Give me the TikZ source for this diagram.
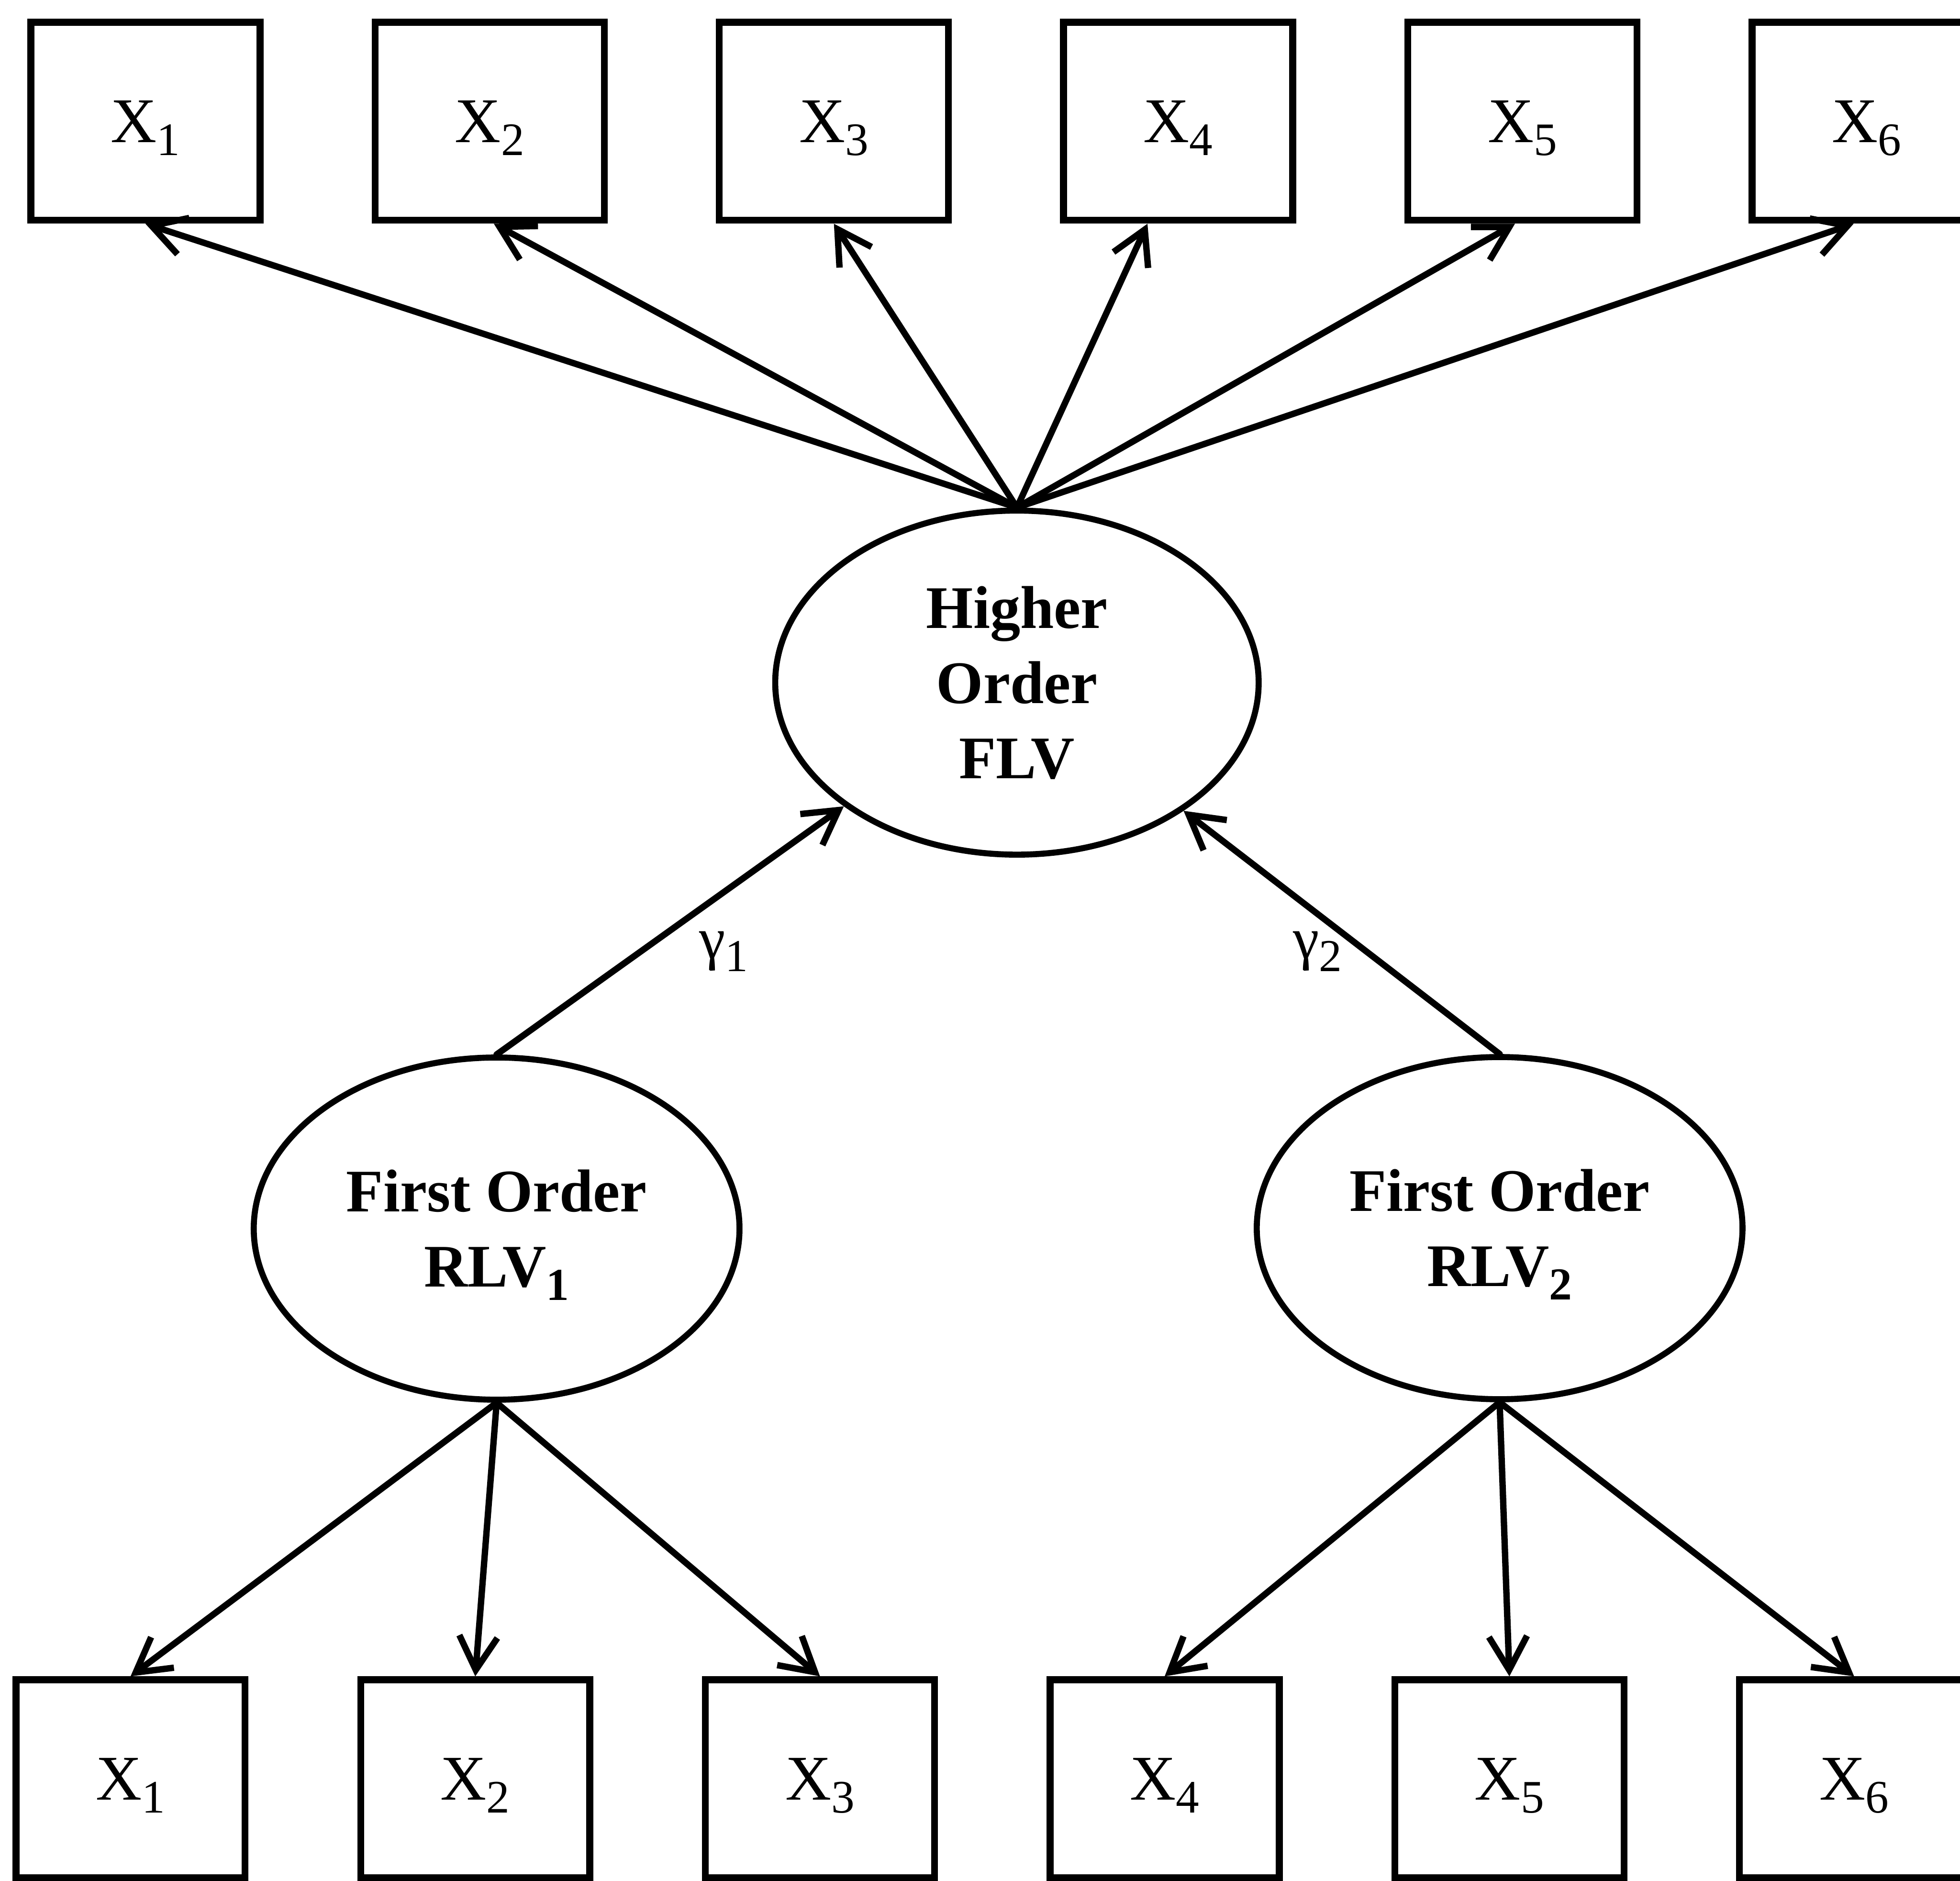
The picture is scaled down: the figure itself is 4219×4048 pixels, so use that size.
\documentclass[tikz,border=0pt]{standalone}
\usepackage{fontspec}
\setmainfont{Liberation Serif}
\usetikzlibrary{arrows.meta,shapes.geometric}

% lowered digits used as subscripts
\newcommand\subx[1]{\smash{\raisebox{-7.9pt}{\fontsize{28.5}{30}\selectfont #1}}}
\newcommand\subb[1]{\smash{\raisebox{-8.2pt}{\fontsize{28}{30}\selectfont\bfseries #1}}}
\newcommand\subg[1]{\smash{\raisebox{-8pt}{\fontsize{28}{30}\selectfont #1}}}

\begin{document}
\begin{tikzpicture}[x=0.01cm,y=-0.01cm,
  obs/.style={draw, rectangle, line width=4.2pt, inner sep=0pt,
    minimum width=4.93cm, minimum height=4.26cm,
    font=\fontsize{39}{46}\selectfont, text height=25.8pt, text depth=0pt},
  latent/.style={draw, ellipse, line width=3.7pt, inner sep=0pt,
    minimum width=10.45cm, minimum height=7.36cm, align=center,
    font=\fontsize{37}{46}\selectfont\bfseries},
  load/.style={line width=3.9pt, line cap=round,
    -{Straight Barb[length=0.72cm,width=0.82cm]}},
  coef/.style={font=\fontsize{36}{40}\selectfont, inner sep=0pt}
]
\useasboundingbox (0,0) rectangle (4219,4048);
\clip (0,0) rectangle (4219,4048);

% latent variables
\node[latent, minimum width=10.4cm, minimum height=7.4cm] (hi) at (2189,1469) {Higher\\Order\\FLV};
\node[latent] (r1) at (1069,2644) {First Order\\RLV\subb{1}};
\node[latent] (r2) at (3228,2643) {First Order\\RLV\subb{2}};

% indicators
\foreach \i in {1,...,6} {
  \node[obs] (t\i) at ({313+741*(\i-1)},261) {X\subx{\i}};
  \node[obs] (b\i) at ({281+742*(\i-1)},3828) {X\subx{\i}};
}

% loadings of the higher order construct
\draw[load] (hi.north) -- (t1.south);
\draw[load] (hi.north) -- ([xshift=0.09cm]t2.south);
\draw[load] (hi.north) -- (t3.south);
\draw[load] (hi.north) -- ([xshift=-0.66cm]t4.south);
\draw[load] (hi.north) -- ([xshift=-0.16cm]t5.south);
\draw[load] (hi.north) -- ([xshift=-0.28cm]t6.south);

% paths between the orders
\draw[load] (r1.north) -- (hi);
\draw[load] (r2.north) -- (hi);
\node[coef] (g1) at (1558,2047) {γ\subg{1}};
\node[coef] (g2) at (2836,2047) {γ\subg{2}};

% loadings of the first order constructs
\draw[load] (r1.south) -- (b1.north);
\draw[load] (r1.south) -- (b2.north);
\draw[load] (r1.south) -- (b3.north);
\draw[load] (r2.south) -- (b4.north);
\draw[load] (r2.south) -- (b5.north);
\draw[load] (r2.south) -- (b6.north);
\end{tikzpicture}
\end{document}
